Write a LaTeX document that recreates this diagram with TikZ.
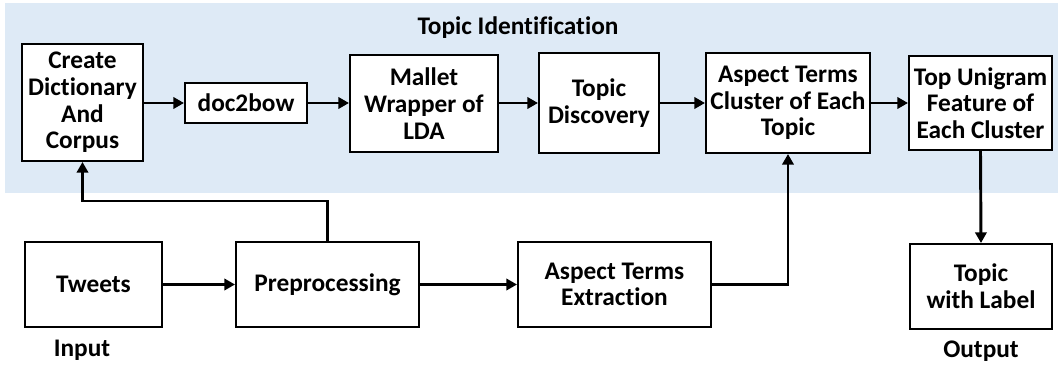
\documentclass[tikz,border=0pt]{standalone}
\usepackage{fontspec}
\setmainfont{Carlito}[Ligatures=NoCommon]
\usetikzlibrary{arrows.meta, positioning}
\definecolor{bandblue}{RGB}{222,234,246}
\tikzset{
	block/.style={draw, line width=1.5pt, fill=white, align=center, inner sep=1pt,
		font=\bfseries\fontsize{19}{20}\selectfont},
	flow/.style={line width=2.2pt, -{Triangle[length=8pt,width=8.5pt]}},
	caption/.style={font=\bfseries\fontsize{19}{20}\selectfont}
}

\begin{document}
\begin{tikzpicture}[x=0.75pt, y=-0.75pt]
	\useasboundingbox (0,0) rectangle (1058,367);
	\fill[bandblue] (5,3) rectangle (1058,193);
	\node[caption] (title) at (518,28) {Topic Identification};

	% topic identification row
	\node[block, minimum width=90.75pt, minimum height=87.75pt] (dict) at (82.5,102.5) {Create\\Dictionary\\And\\Corpus};
	\node[block, minimum width=91.5pt, minimum height=30pt] (bow) at (246,103) {doc2bow};
	\node[block, minimum width=111pt, minimum height=72.75pt] (mallet) at (424,103.5) {Mallet\\Wrapper of\\LDA};
	\node[block, minimum width=90pt, minimum height=75pt] (disc) at (599,103) {Topic\\Discovery};
	\node[block, minimum width=123pt, minimum height=75pt] (clust) at (788,103) {Aspect Terms\\Cluster of Each\\Topic};
	\node[block, minimum width=107.25pt, minimum height=70.5pt] (unigram) at (980.5,103) {Top Unigram\\Feature of\\Each Cluster};

	% input row
	\node[block, minimum width=102.75pt, minimum height=63.75pt] (tweets) at (93.5,284.5) {Tweets};
	\node[block, minimum width=137.25pt, minimum height=63.75pt] (prep) at (327.5,284.5) {Preprocessing};
	\node[block, minimum width=144.75pt, minimum height=63.75pt] (ate) at (614.5,284.5) {Aspect Terms\\Extraction};
	\node[block, minimum width=106.5pt, minimum height=63.75pt] (label) at (981,286.5) {Topic\\with Label};

	\node[caption] (input) at (82,350) {Input};
	\node[caption] (output) at (981,351) {Output};

	\coordinate (bend) at (82.5,201);

	\draw[flow] (dict.east |- bow.west) -- (bow.west);
	\draw[flow] (bow.east) -- (mallet.west |- bow.east);
	\draw[flow] (mallet.east |- disc.west) -- (disc.west);
	\draw[flow] (disc.east) -- (clust.west);
	\draw[flow] (clust.east) -- (unigram.west);
	\draw[flow] (unigram.south) -- (label.north);
	\draw[flow] (tweets.east) -- (prep.west);
	\draw[flow] (prep.east) -- (ate.west);
	\draw[flow] (ate.east) -| (clust.south);
	\draw[flow] (prep.north) |- (bend) -- (dict.south);
\end{tikzpicture}
\end{document}
